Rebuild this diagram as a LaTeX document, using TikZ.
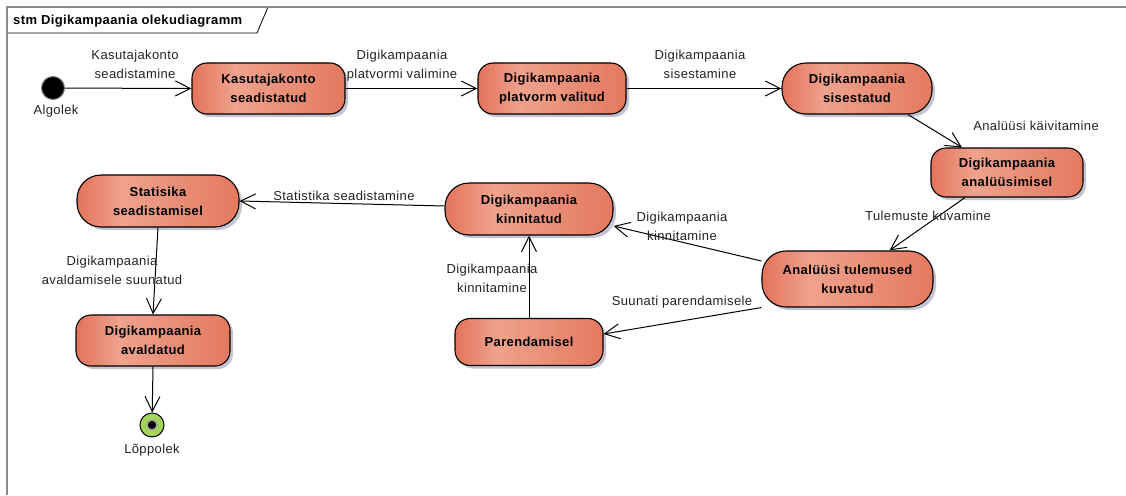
\documentclass[tikz,border=0pt]{standalone}
\usepackage{fontspec}
\setmainfont[LetterSpace=3]{Liberation Sans}
\usetikzlibrary{arrows.meta,shadows,calc}

\definecolor{stLeft}{HTML}{E3735B}
\definecolor{stLight}{HTML}{EFA28D}
\definecolor{stRight}{HTML}{E3795F}
\definecolor{shadowgray}{HTML}{C4C5D0}
\definecolor{framegray}{HTML}{8A8A8A}
\definecolor{labelgray}{HTML}{222222}
\definecolor{endgreen}{HTML}{A3D55B}

% state fill: darker at the sides, light band left of centre
\pgfdeclarehorizontalshading{eaState}{100bp}{color(0bp)=(stLeft); color(25bp)=(stLeft);
  color(39bp)=(stLight); color(75bp)=(stRight); color(100bp)=(stRight)}

\newcommand{\olekfont}{\bfseries\fontsize{13}{19}\selectfont}
\newcommand{\markfont}{\fontsize{13}{19}\selectfont}

\tikzset{
  olek/.style={rectangle, rounded corners=15pt, draw=black, line width=1.1pt,
    shade, shading=eaState,
    drop shadow={shadow xshift=3pt, shadow yshift=-3pt, fill=shadowgray, opacity=1},
    font=\olekfont, align=center, inner sep=0pt, text=black},
  pill/.style={rounded corners=24pt},
  lbl/.style={font=\markfont, text=labelgray, align=center, inner sep=0pt},
  trans/.style={draw=black, line width=1pt, -{Straight Barb[length=15pt, width=15pt]}}
}

\begin{document}
\begin{tikzpicture}[x=1pt, y=-1pt]
\useasboundingbox (0,0) rectangle (1126,495);

% diagram frame and its name tab
\fill[white] (7,7) -- (268,7) -- (257,33) -- (7,33) -- cycle;
\draw[black, line width=0.8pt] (7,33) -- (257,33) -- (268,7);
\draw[framegray, line width=1.6pt] (7,495) -- (7,7) -- (1126,7);
\node[anchor=west, font=\olekfont, inner sep=0pt] (title) at (13,21) {stm Digikampaania olekudiagramm};

% pseudo states
\node[circle, fill=black, draw=gray, line width=1pt, minimum size=23pt, inner sep=0pt] (start) at (53,88) {};
\node[lbl] (startlbl) at (56,111) {Algolek};
\node[circle, fill=endgreen, draw=black, line width=1pt, minimum size=24pt, inner sep=0pt] (end) at (152,425) {};
\node[circle, fill=black, draw=gray!70, line width=1.5pt, minimum size=10pt, inner sep=0pt] (endcore) at (end) {};
\node[lbl] (endlbl) at (152,450) {Lõppolek};

% states
\node[olek, minimum width=153pt, minimum height=51pt] (kas) at (268.5,88.5) {Kasutajakonto\\seadistatud};
\node[olek, minimum width=148pt, minimum height=51pt] (pla) at (552,88.5) {Digikampaania\\platvorm valitud};
\node[olek, pill, minimum width=150pt, minimum height=51pt] (sis) at (857,88.5) {Digikampaania\\sisestatud};
\node[olek, minimum width=152pt, minimum height=49pt] (ana) at (1007,172.5) {Digikampaania\\analüüsimisel};
\node[olek, pill, minimum width=171pt, minimum height=56pt] (tul) at (847.5,279) {Analüüsi tulemused\\kuvatud};
\node[olek, pill, minimum width=168pt, minimum height=52pt] (kin) at (529,209) {Digikampaania\\kinnitatud};
\node[olek, pill, minimum width=162pt, minimum height=52pt] (sta) at (158,201) {Statisika\\seadistamisel};
\node[olek, minimum width=154pt, minimum height=51pt] (ava) at (153,340.5) {Digikampaania\\avaldatud};
\node[olek, minimum width=148pt, minimum height=47pt] (par) at (529,342) {Parendamisel};

% transitions
\draw[trans] (start) -- (kas.west);
\draw[trans] (kas.east) -- (pla.west);
\draw[trans] (pla.east) -- (sis.west);
\draw[trans] ($(sis.south)+(51,0)$) -- ($(ana.north)+(-45,0)$);
\draw[trans] ($(ana.south)+(-42,0)$) -- ($(tul.north)+(42,0)$);
\draw[trans] ($(tul.west)+(0,-18)$) -- ($(kin.east)+(0,17)$);
\draw[trans] (tul.south west) -- ($(par.east)+(0,-8)$);
\draw[trans] (par.north) -- (kin.south);
\draw[trans] ($(kin.west)+(0,-3)$) -- (sta.east);
\draw[trans] (sta.south) -- (ava.north);
\draw[trans] (ava.south) -- (end);

% transition labels
\node[lbl] (l1) at (135,64.5) {Kasutajakonto\\seadistamine};
\node[lbl] (l2) at (402,65.5) {Digikampaania\\platvormi valimine};
\node[lbl] (l3) at (700,64) {Digikampaania\\sisestamine};
\node[lbl] (l4) at (1036,126) {Analüüsi käivitamine};
\node[lbl] (l5) at (928,216) {Tulemuste kuvamine};
\node[lbl] (l6) at (682,226) {Digikampaania\\kinnitamine};
\node[lbl] (l7) at (682,302) {Suunati parendamisele};
\node[lbl] (l8) at (492,278) {Digikampaania\\kinnitamine};
\node[lbl] (l9) at (344,196) {Statistika seadistamine};
\node[lbl] (l10) at (112,270) {Digikampaania\\avaldamisele suunatud};
\end{tikzpicture}
\end{document}
